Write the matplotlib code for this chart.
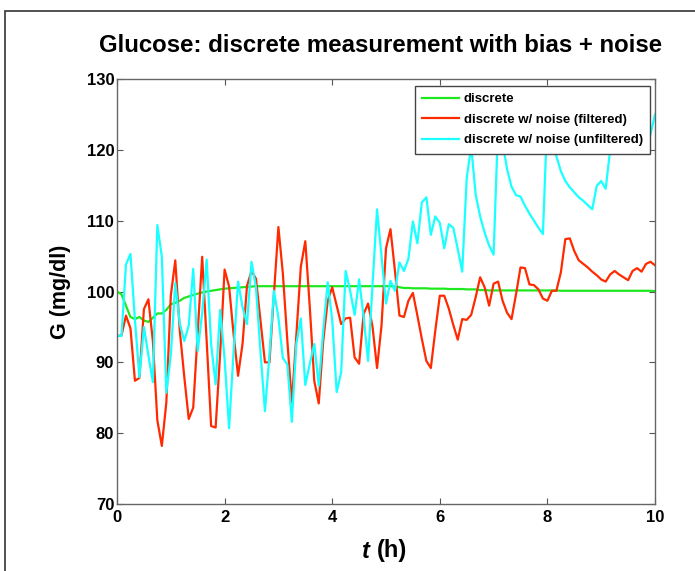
import matplotlib
matplotlib.use('Agg')
import matplotlib.pyplot as plt
import numpy as np
from matplotlib.patches import Rectangle

plt.rcParams['font.family'] = ['Liberation Sans', 'DejaVu Sans']
plt.rcParams['font.weight'] = 'bold'

# sample times: one reading every 5 minutes over 10 hours
t = np.arange(121) / 12.0

discrete = [
    100.0, 99.6, 98.0, 96.4, 96.1, 96.4, 95.9, 95.7, 96.3, 96.9,
    96.9, 97.4, 98.2, 98.4, 98.7, 99.1, 99.3, 99.5, 99.7, 99.85,
    100.0, 100.1, 100.2, 100.3, 100.4, 100.45, 100.5, 100.55, 100.6, 100.65,
    100.7, 100.75, 100.75, 100.75, 100.75, 100.75, 100.75, 100.75, 100.75, 100.75,
    100.75, 100.75, 100.75, 100.75, 100.75, 100.75, 100.75, 100.75, 100.75, 100.75,
    100.75, 100.75, 100.75, 100.75, 100.75, 100.75, 100.75, 100.75, 100.75, 100.75,
    100.75, 100.75, 100.7, 100.6, 100.5, 100.5, 100.45, 100.45, 100.45, 100.45,
    100.4, 100.4, 100.4, 100.4, 100.35, 100.35, 100.35, 100.35, 100.3, 100.3,
    100.3, 100.2, 100.2, 100.15, 100.15, 100.15, 100.15, 100.15, 100.15, 100.15,
    100.15, 100.15, 100.15, 100.15, 100.15, 100.15, 100.15, 100.15, 100.15, 100.1,
    100.1, 100.1, 100.1, 100.1, 100.1, 100.1, 100.1, 100.1, 100.1, 100.1,
    100.1, 100.1, 100.1, 100.1, 100.1, 100.1, 100.1, 100.1, 100.1, 100.1,
    100.05,
]

filtered = [
    93.7, 93.8, 96.6, 94.8, 87.4, 87.8, 97.5, 98.9, 93.0, 81.8,
    78.2, 84.3, 99.4, 104.4, 94.5, 88.0, 82.0, 83.6, 94.2, 104.9,
    93.0, 81.0, 80.8, 91.2, 103.1, 100.7, 94.0, 88.1, 92.6, 100.8,
    102.9, 101.8, 95.9, 90.0, 90.0, 99.6, 109.1, 102.5, 93.0, 84.3,
    93.8, 103.5, 107.1, 97.8, 87.4, 84.2, 93.0, 98.7, 100.6, 98.0,
    95.4, 96.2, 96.3, 90.7, 89.8, 96.8, 98.3, 95.0, 89.2, 95.2,
    106.1, 108.8, 102.9, 96.6, 96.4, 98.7, 99.8, 96.6, 93.3, 90.2,
    89.2, 94.5, 99.4, 99.4, 97.6, 95.3, 93.2, 96.1, 96.0, 96.7,
    99.2, 102.0, 100.6, 98.0, 101.1, 101.4, 98.7, 97.0, 96.1, 99.6,
    103.4, 103.3, 101.0, 100.9, 100.3, 99.0, 98.7, 100.1, 100.1, 102.7,
    107.4, 107.5, 105.7, 104.4, 103.9, 103.4, 102.8, 102.3, 101.7, 101.4,
    102.4, 102.9, 102.4, 102.0, 101.6, 102.9, 103.3, 102.8, 103.9, 104.2,
    103.7,
]

unfiltered = [
    93.8, 93.7, 103.8, 105.3, 96.0, 87.9, 95.0, 91.0, 87.2, 109.4,
    104.9, 85.7, 91.0, 101.2, 95.5, 93.0, 95.2, 103.2, 91.6, 97.0,
    104.5, 92.5, 86.9, 97.4, 90.5, 80.7, 91.5, 101.4, 97.8, 95.4,
    104.2, 100.6, 91.5, 83.1, 91.0, 100.1, 96.3, 90.6, 89.7, 81.6,
    92.6, 96.2, 86.8, 89.8, 92.6, 86.7, 94.5, 101.3, 96.0, 85.8,
    88.6, 102.9, 100.1, 96.7, 101.7, 96.5, 90.2, 101.0, 111.6, 105.0,
    98.3, 101.5, 100.1, 104.1, 102.9, 104.6, 109.9, 106.8, 112.6, 113.3,
    108.0, 110.6, 109.7, 106.1, 109.5, 109.0, 106.0, 102.8, 116.0, 120.5,
    113.7, 110.6, 108.3, 106.5, 105.2, 123.5, 121.0, 117.3, 114.8, 113.6,
    113.4, 112.1, 111.0, 110.0, 109.0, 108.1, 125.0, 122.0, 119.1, 117.0,
    115.6, 114.7, 114.0, 113.3, 112.8, 112.2, 111.6, 114.9, 115.6, 114.5,
    120.0, 124.0, 126.0, 125.0, 124.0, 123.0, 122.5, 122.0, 121.5, 122.2,
    125.0,
]

labels = ['discrete', 'discrete w/ noise (filtered)', 'discrete w/ noise (unfiltered)']
colors = ['#1ee81e', '#ff2a00', '#1affff']

fig = plt.figure(figsize=(6.95, 5.71), dpi=100)
ax = fig.add_axes([117 / 695, 1 - 504 / 571, 538 / 695, 425 / 571])

ax.plot(t, discrete, color=colors[0], lw=1.6, label=labels[0])
ax.plot(t, filtered, color=colors[1], lw=1.6, label=labels[1])
ax.plot(t, unfiltered, color=colors[2], lw=1.6, label=labels[2])

ax.set_xlim(0, 10)
ax.set_ylim(70, 130)
ax.set_xticks([0, 2, 4, 6, 8, 10])
ax.set_yticks([70, 80, 90, 100, 110, 120, 130])
ax.tick_params(direction='in', top=True, right=True, length=4, width=0.8,
               color='#555555', labelsize=12, pad=2)
ax.tick_params(axis='x', pad=4)
for lab in ax.get_xticklabels() + ax.get_yticklabels():
    lab.set_fontweight('bold')
for s in ax.spines.values():
    s.set_color('#666666')
    s.set_linewidth(1.0)

ax.set_ylabel('G (mg/dl)', fontsize=15.5, fontweight='bold', labelpad=11)
fig.text(377 / 695, 1 - 551 / 571, '(h)', fontsize=17, fontweight='bold',
         ha='left', va='center')
fig.text(377 / 695, 1 - 551 / 571, 't ', fontsize=17, fontweight='bold',
         style='italic', ha='right', va='center')

fig.text(381 / 695, 1 - 46 / 571, 'Glucose: discrete measurement with bias + noise',
         fontsize=17.3, fontweight='bold', ha='center', va='center')

leg = ax.legend(loc='upper right', bbox_to_anchor=(650 / 695, 1 - 86 / 571),
                bbox_transform=fig.transFigure, fancybox=False, framealpha=1,
                edgecolor='#444444', borderaxespad=0, handlelength=2.8,
                handletextpad=0.35, labelspacing=0.62, borderpad=0.55,
                prop={'size': 9.5, 'weight': 'bold'})
leg.get_frame().set_linewidth(1.0)

# outer window frame of the screenshot
fig.add_artist(Rectangle((5 / 695, -0.1), 1.2, 1.1 - 11 / 571,
                         transform=fig.transFigure, fill=False,
                         edgecolor='#333333', lw=1.2))

fig.savefig('out.png', dpi=100)
